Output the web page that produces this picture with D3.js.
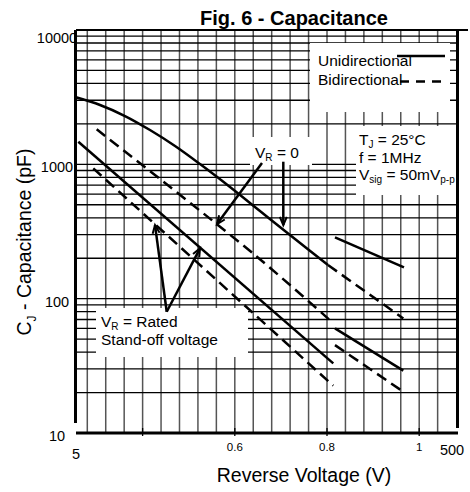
<!DOCTYPE html>
<html><head><meta charset="utf-8">
<script src="https://cdn.jsdelivr.net/npm/d3@7"></script>
<style>body{margin:0;background:#fff}svg{display:block}text{font-family:"Liberation Sans",Arial,sans-serif;fill:#000}</style>
</head><body><svg id="c" width="470" height="492"></svg>
<script>
// ---- data ----
const xGrid = [0.28,0.32,0.36,0.40,0.44,0.48,0.52,0.56,0.60,0.64,0.68,0.72,0.76,0.80,0.84,0.88,0.92,0.96,1.00,1.04];
const xTickValues = [0.4, 0.6, 0.8, 1.0];
const xTickLabels = ["", "0.6", "0.8", "1"];
const xEndLabels = ["5", "500"];
const yTickValues = [10, 100, 1000, 10000];
const yTickLabels = ["10", "100", "1000", "10000"];
// curves: [x-axis value, capacitance pF]
const uniVr0 = [[0.2555,3155],[0.3076,2764],[0.3618,2289],[0.4160,1800],[0.4703,1369],[0.5245,1005],[0.5896,678],[0.6546,449],[0.7197,298],[0.8021,178]];
const biVr0Tail = [[0.8021,178],[0.9655,71.3]];
const uniVr0Short = [[0.8173,286],[0.9670,171]];
const biVr0 = [[0.3004,1822],[0.6438,211],[0.8102,67.3]];
const uniRated = [[0.2605,1473],[0.8136,33.0]];
const biRated = [[0.2930,934],[0.8136,22.5]];
const uniRatedShort = [[0.8173,60.1],[0.9655,29.1]];
const biRatedShort = [[0.8173,45.1],[0.9655,20.3]];
const solidSeries = [uniVr0, uniVr0Short, uniRated, uniRatedShort];
const dashedSeries = [biVr0Tail, biVr0, biRated, biRatedShort];
// annotation arrows: [from, to]
const arrows = [
  [[0.6590,1022],[0.5614,359]],
  [[0.7052,1046],[0.7052,353]],
  [[0.4523,79.9],[0.4269,353]],
  [[0.4523,79.9],[0.5245,237]]
];

// ---- chart ----
const svg = d3.select("#c");
const x = d3.scaleLinear().domain([0.2555, 1.082]).range([76, 457]);
const y = d3.scaleLog().domain([10, 10000]).range([433, 30]);

// grid
const yGrid = [];
[10,100,1000].forEach(d => { for (let k=1;k<10;k++) yGrid.push(d*k); });
yGrid.push(10000);
svg.append("g").selectAll("line").data(xGrid).join("line")
  .attr("x1", d=>x(d)).attr("x2", d=>x(d)).attr("y1", 30).attr("y2", 433)
  .attr("stroke", "#555").attr("stroke-width", 1.5);
svg.append("g").selectAll("line").data(yGrid).join("line")
  .attr("x1", 76).attr("x2", 457).attr("y1", d=>y(d)).attr("y2", d=>y(d))
  .attr("stroke", "#000").attr("stroke-width", 1.3);

// white boxes
const boxes = [[310,43,140,69],[356,126,101,69],[250,137,62,28],[96,308,152,49]];
svg.append("g").selectAll("rect").data(boxes).join("rect")
  .attr("x", d=>d[0]).attr("y", d=>d[1]).attr("width", d=>d[2]).attr("height", d=>d[3])
  .attr("fill", "#fff");

// curves
const line = d3.line().x(d=>x(d[0])).y(d=>y(d[1])).curve(d3.curveCatmullRom.alpha(0.5));
svg.append("g").selectAll("path").data(solidSeries).join("path")
  .attr("d", line).attr("fill","none").attr("stroke","#000").attr("stroke-width",2.5);
svg.append("g").selectAll("path").data(dashedSeries).join("path")
  .attr("d", line).attr("fill","none").attr("stroke","#000").attr("stroke-width",2.5)
  .attr("stroke-dasharray","11,6");

// arrows
const ga = svg.append("g").attr("stroke","#000").attr("fill","none");
arrows.forEach(([p0,p1]) => {
  const x0=x(p0[0]), y0=y(p0[1]), x1=x(p1[0]), y1=y(p1[1]);
  ga.append("line").attr("x1",x0).attr("y1",y0).attr("x2",x1).attr("y2",y1).attr("stroke-width",2.5);
  const a = Math.atan2(y1-y0, x1-x0), L=9, t=0.4;
  ga.append("path").attr("stroke-width",2)
    .attr("d", `M${x1-L*Math.cos(a-t)},${y1-L*Math.sin(a-t)}L${x1},${y1}L${x1-L*Math.cos(a+t)},${y1-L*Math.sin(a+t)}`);
});

// rich text helper
function rich(g, x0, y0, parts, size) {
  const t = g.append("text").attr("x", x0).attr("y", y0).attr("font-size", size);
  let shifted = false;
  parts.forEach(p => {
    const sub = typeof p !== "string";
    const s = sub ? p[0] : p;
    const ts = t.append("tspan").text(s);
    if (sub && !shifted) { ts.attr("dy", 3).attr("font-size", 10); shifted = true; }
    else if (!sub && shifted) { ts.attr("dy", -3); shifted = false; }
    else if (sub) ts.attr("font-size", 10);
  });
  return t;
}

svg.append("defs").append("clipPath").attr("id","clp").append("rect")
  .attr("x",0).attr("y",0).attr("width",456).attr("height",492);
const gt = svg.append("g").attr("clip-path","url(#clp)");

// legend
gt.append("text").attr("x",318).attr("y",66).attr("font-size",15.5).text("Unidirectional");
gt.append("text").attr("x",318).attr("y",85).attr("font-size",15.5).text("Bidirectional");
gt.append("line").attr("x1",397).attr("x2",445).attr("y1",56).attr("y2",56).attr("stroke","#000").attr("stroke-width",2.5);
gt.append("line").attr("x1",400).attr("x2",447).attr("y1",81.5).attr("y2",81.5).attr("stroke","#000").attr("stroke-width",2.5).attr("stroke-dasharray","9,7");

// conditions
rich(gt, 359, 144.5, ["T", ["J"], " = 25°C"], 15.5);
rich(gt, 359, 162.5, ["f = 1MHz"], 15.5);
rich(gt, 359, 179.5, ["V", ["sig"], " = 50mV", ["p-p"]], 15.5);
// annotations
rich(gt, 255, 158, ["V", ["R"], " = 0"], 15.5);
rich(gt, 101, 327, ["V", ["R"], " = Rated"], 15.5);
rich(gt, 101, 345, ["Stand-off voltage"], 15.5);

// axes frame
svg.append("line").attr("x1",76).attr("x2",468).attr("y1",30).attr("y2",30).attr("stroke","#000").attr("stroke-width",2);
svg.append("line").attr("x1",75.5).attr("x2",75.5).attr("y1",30).attr("y2",423).attr("stroke","#000").attr("stroke-width",3);
svg.append("line").attr("x1",76).attr("x2",458).attr("y1",433).attr("y2",433).attr("stroke","#000").attr("stroke-width",3);
svg.append("line").attr("x1",457.5).attr("x2",457.5).attr("y1",31).attr("y2",428).attr("stroke","#000").attr("stroke-width",3);

// x ticks
svg.append("g").selectAll("line").data(xTickValues).join("line")
  .attr("x1", d=>x(d)).attr("x2", d=>x(d)).attr("y1", 428).attr("y2", 436)
  .attr("stroke","#000").attr("stroke-width",1.3);
svg.append("g").selectAll("text").data(xTickValues).join("text")
  .attr("x", d=>x(d)).attr("y", 451).attr("text-anchor","middle").attr("font-size",11.5)
  .text((d,i)=>xTickLabels[i]);
svg.append("text").attr("x", x.range()[0]).attr("y", 458.5).attr("text-anchor","middle").attr("font-size",14.5).text(xEndLabels[0]);
svg.append("text").attr("x", x.range()[1]-5).attr("y", 455).attr("text-anchor","middle").attr("font-size",14.5).text(xEndLabels[1]);

// y tick labels
svg.append("g").selectAll("text").data(yTickValues).join("text")
  .attr("x", 57).attr("y", d=>Math.max(y(d)+3, 38)).attr("dy","0.35em").attr("text-anchor","middle").attr("font-size",14.5)
  .text((d,i)=>yTickLabels[i]);

// titles
svg.append("text").attr("x",294).attr("y",25).attr("text-anchor","middle").attr("font-size",20).attr("font-weight","bold").text("Fig. 6 - Capacitance");
svg.append("text").attr("x",304).attr("y",482).attr("text-anchor","middle").attr("font-size",19.5).text("Reverse Voltage (V)");
const yt = svg.append("text").attr("transform","translate(31,242) rotate(-90)").attr("text-anchor","middle").attr("font-size",19.5);
yt.append("tspan").text("C");
yt.append("tspan").attr("dy",5).attr("font-size",12).text("J");
yt.append("tspan").attr("dy",-5).text(" - Capacitance (pF)");
</script></body></html>
